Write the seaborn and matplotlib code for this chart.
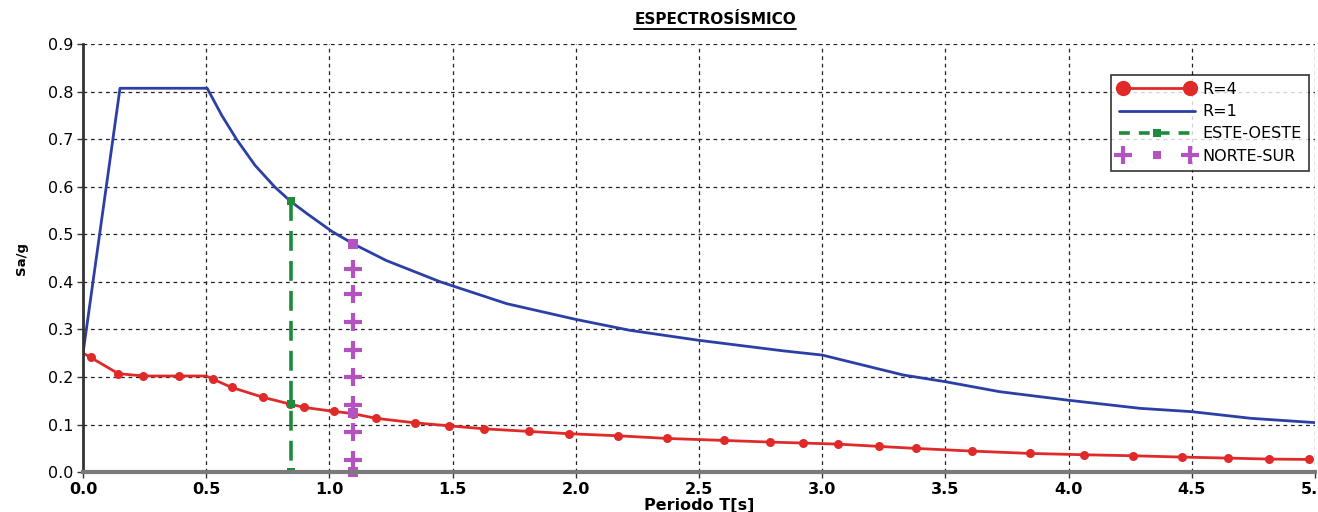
import numpy as np
import pandas as pd
import matplotlib.pyplot as plt
import seaborn as sns
from matplotlib.lines import Line2D
from matplotlib.legend_handler import HandlerLine2D, HandlerTuple

# spectrum R=1
T_r1 = [0.0, 0.15, 0.504, 0.563, 0.624, 0.698, 0.779, 0.843, 0.91, 1.01, 1.10, 1.23, 1.45,
        1.72, 2.0, 2.22, 2.5, 2.84, 3.0, 3.33, 3.5, 3.72, 4.0, 4.29, 4.5, 4.74, 5.0]
Sa_r1 = [0.25, 0.807, 0.807, 0.750, 0.699, 0.645, 0.599, 0.569, 0.543, 0.506, 0.479, 0.445, 0.40,
         0.354, 0.321, 0.298, 0.277, 0.255, 0.246, 0.204, 0.190, 0.169, 0.151, 0.134, 0.127, 0.113, 0.104]

# spectrum R=4
T_r4 = [0.0, 0.031, 0.143, 0.245, 0.391, 0.50, 0.529, 0.603, 0.732, 0.84, 0.897, 1.019, 1.094,
        1.189, 1.346, 1.484, 1.627, 1.809, 1.973, 2.172, 2.370, 2.602, 2.790, 2.922, 3.063,
        3.229, 3.381, 3.608, 3.842, 4.062, 4.260, 4.460, 4.646, 4.812, 4.976]
Sa_r4 = [0.25, 0.241, 0.207, 0.202, 0.202, 0.202, 0.195, 0.178, 0.157, 0.143, 0.136, 0.1275, 0.123,
         0.113, 0.1036, 0.0973, 0.091, 0.0855, 0.0806, 0.0763, 0.0707, 0.0665, 0.063, 0.061, 0.0588,
         0.054, 0.0497, 0.0441, 0.0392, 0.0364, 0.0343, 0.0315, 0.0294, 0.0273, 0.0266]
r4_marked = [i for i in range(len(T_r4)) if i not in (0, 5)]

# periods of the building
T_eo = [0.843, 0.843, 0.843]
Sa_eo = [0.569, 0.143, 0.0]
T_ns = [1.094, 1.094, 1.094]
Sa_ns = [0.479, 0.125, 0.0]
Sa_ns_plus = [0.428, 0.374, 0.316, 0.256, 0.200, 0.142, 0.085, 0.025]

x_ticks = [0.0, 0.5, 1.0, 1.5, 2.0, 2.5, 3.0, 3.5, 4.0, 4.5, 5.0]
y_ticks = [0.0, 0.1, 0.2, 0.3, 0.4, 0.5, 0.6, 0.7, 0.8, 0.9]

RED = "#e02a2a"
BLUE = "#2b3fa6"
GREEN = "#1e8a3c"
MAG = "#b452c2"

sns.set_style("white")
plt.rcParams["font.family"] = ["DejaVu Sans"]
plt.rcParams["text.color"] = "black"
plt.rcParams["axes.labelcolor"] = "black"
plt.rcParams["xtick.color"] = "black"
plt.rcParams["ytick.color"] = "black"

fig = plt.figure(figsize=(13.18, 5.12), dpi=100)
ax = fig.add_axes([0.063, 0.078, 0.9347, 0.836])

df_r1 = pd.DataFrame({"T": T_r1, "Sa": Sa_r1})
df_r4 = pd.DataFrame({"T": T_r4, "Sa": Sa_r4})
df_eo = pd.DataFrame({"T": T_eo, "Sa": Sa_eo})

sns.lineplot(data=df_r1, x="T", y="Sa", ax=ax, sort=False, estimator=None,
             color=BLUE, linewidth=2, zorder=3)
sns.lineplot(data=df_r4, x="T", y="Sa", ax=ax, sort=False, estimator=None,
             color=RED, linewidth=2, marker="o", markersize=6.5, markevery=r4_marked,
             markeredgewidth=0, zorder=4)
sns.lineplot(data=df_eo, x="T", y="Sa", ax=ax, sort=False, estimator=None,
             color=GREEN, linewidth=2.6, dashes=False, linestyle=(0, (5.5, 2.8)),
             marker="s", markersize=6, markeredgewidth=0, zorder=5)
sns.scatterplot(x=[T_ns[0]] * len(Sa_ns_plus), y=Sa_ns_plus, ax=ax, marker="+",
                s=150, linewidth=3, color=MAG, zorder=5)
sns.scatterplot(x=T_ns, y=Sa_ns, ax=ax, marker="s", s=45, linewidth=0,
                color=MAG, zorder=6, clip_on=False)

ax.set_xlim(0, 5)
ax.set_ylim(0, 0.9)
ax.set_xticks(x_ticks)
ax.set_yticks(y_ticks)
ax.set_xticklabels([f"{v:.1f}" for v in x_ticks], fontsize=11.5, fontweight="bold")
ax.set_yticklabels([f"{v:.1f}" for v in y_ticks], fontsize=11.5)
ax.tick_params(axis="both", direction="out", length=4, width=1, color="#333333",
               left=True, bottom=True, pad=3)
ax.grid(True, color="#222222", linestyle=(0, (3, 3)), linewidth=0.9)
ax.set_axisbelow(True)

for s in ["top", "right"]:
    ax.spines[s].set_visible(False)
ax.spines["left"].set_color("#333333")
ax.spines["left"].set_linewidth(2)
ax.spines["bottom"].set_color("#7a7a7a")
ax.spines["bottom"].set_linewidth(3)
ax.spines["left"].set_zorder(7)
ax.spines["bottom"].set_zorder(7)

ax.set_xlabel("Periodo T[s]", fontsize=11.5, fontweight="bold", labelpad=1)
ax.set_ylabel("Sa/g", fontsize=9.5, fontweight="bold", labelpad=14)

# legend
h_r4 = Line2D([], [], color=RED, lw=2, marker="o", ms=11, mew=0)
h_r1 = Line2D([], [], color=BLUE, lw=2)
h_eo = Line2D([], [], color=GREEN, lw=2.6, ls=(0, (3, 2.5)), marker="s", ms=6, mew=0)
h_ns_p = Line2D([], [], color=MAG, ls="none", marker="+", ms=13, mew=3)
h_ns_s = Line2D([], [], color=MAG, ls="none", marker="s", ms=6, mew=0)
leg = ax.legend([h_r4, h_r1, h_eo, (h_ns_p, h_ns_s)],
                ["R=4", "R=1", "ESTE-OESTE", "NORTE-SUR"],
                handler_map={h_r4: HandlerLine2D(numpoints=2),
                             h_eo: HandlerLine2D(numpoints=1),
                             h_ns_p: HandlerLine2D(numpoints=2),
                             h_ns_s: HandlerLine2D(numpoints=1),
                             tuple: HandlerTuple(ndivide=1)},
                loc="upper right", bbox_to_anchor=(0.995, 0.928), borderaxespad=0,
                fontsize=11.5, frameon=True, fancybox=False, handlelength=4.8,
                handletextpad=0.45, labelspacing=0.45, borderpad=0.45)
leg.get_frame().set_edgecolor("black")
leg.get_frame().set_linewidth(1.2)
leg.set_zorder(10)

title = fig.text(0.5425, 0.962, "ESPECTROSÍSMICO", ha="center", va="center",
                 fontsize=11, fontweight="bold")
fig.canvas.draw()
bb = title.get_window_extent().transformed(fig.transFigure.inverted())
fig.add_artist(Line2D([bb.x0, bb.x1], [bb.y0 - 0.004, bb.y0 - 0.004], color="black",
                      lw=1.3, transform=fig.transFigure))

fig.savefig("out.png", dpi=100)
plt.close(fig)
